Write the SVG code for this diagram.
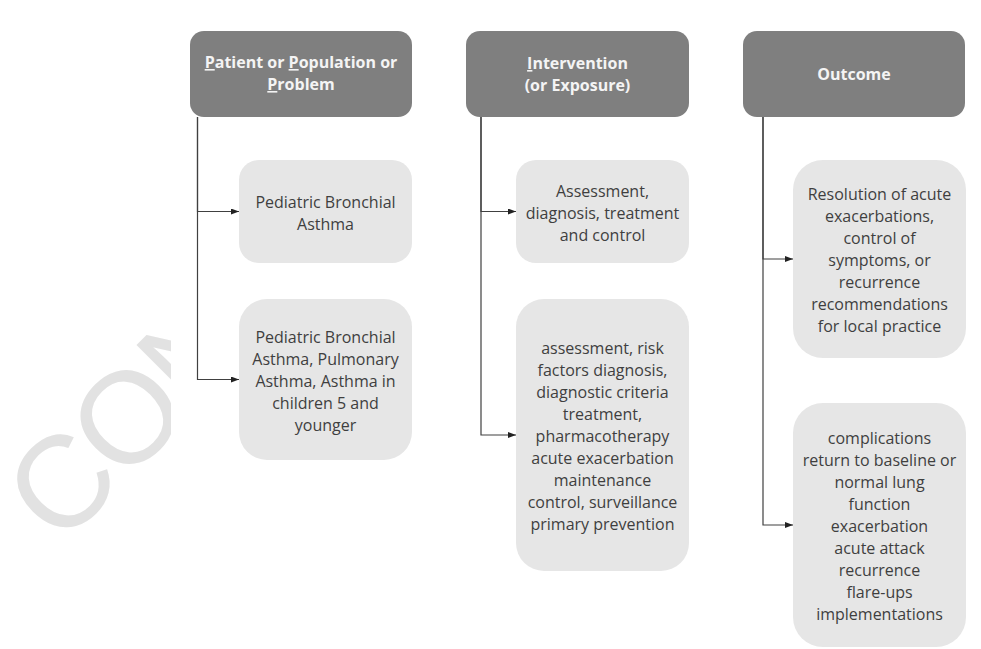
<svg xmlns="http://www.w3.org/2000/svg" width="981" height="649" viewBox="0 0 981 649">
<defs>
<style>
.hdr{fill:#7f7f7f}
.box{fill:#e6e6e6}
.ht{font-family:"Open Sans","Noto Sans",sans-serif;font-size:16px;font-weight:bold;fill:#f4f4f4;text-anchor:middle}
.bt{font-family:"Open Sans","Noto Sans",sans-serif;font-size:16px;fill:#3f3f3f;text-anchor:middle}
.con{fill:none;stroke:#404040;stroke-width:1.2}
.wm{font-family:"Liberation Sans",Arial,sans-serif;font-size:130px;fill:#e2e2e2;letter-spacing:-4px}
</style>
<marker id="arr" markerWidth="8" markerHeight="6" refX="8" refY="3" orient="auto" markerUnits="userSpaceOnUse">
<path d="M0,0 L8,3 L0,6 z" fill="#222"/>
</marker>
</defs>
<rect x="0" y="0" width="981" height="649" fill="#fff"/>
<text class="wm" x="60" y="548" transform="rotate(-45 60 548)">CON</text>
<rect x="171" y="12" width="810" height="637" fill="#fff"/>

<g id="connectors">
<path class="con" d="M197.5,117 V211.5 H239" marker-end="url(#arr)"/>
<path class="con" d="M197.5,117 V379.5 H239" marker-end="url(#arr)"/>
<path class="con" d="M481,117 V211.5 H516" marker-end="url(#arr)"/>
<path class="con" d="M481,117 V435 H516" marker-end="url(#arr)"/>
<path class="con" d="M763,117 V259 H793" marker-end="url(#arr)"/>
<path class="con" d="M763,117 V525 H793" marker-end="url(#arr)"/>
</g>

<g id="h1">
<rect class="hdr" x="190" y="31" width="222" height="86" rx="14"/>
<text class="ht" x="301" y="68"><tspan text-decoration="underline">P</tspan>atient or <tspan text-decoration="underline">P</tspan>opulation or</text>
<text class="ht" x="301" y="90"><tspan text-decoration="underline">P</tspan>roblem</text>
</g>
<g id="h2">
<rect class="hdr" x="466" y="31" width="223" height="86" rx="14"/>
<text class="ht" x="577.5" y="69"><tspan text-decoration="underline">I</tspan>ntervention</text>
<text class="ht" x="577.5" y="91">(or Exposure)</text>
</g>
<g id="h3">
<rect class="hdr" x="743" y="31" width="222" height="86" rx="14"/>
<text class="ht" x="854" y="80">Outcome</text>
</g>

<g id="p1">
<rect class="box" x="239" y="160" width="173" height="103" rx="20"/>
<text class="bt" x="325.5" y="207.5">Pediatric Bronchial</text>
<text class="bt" x="325.5" y="229.5">Asthma</text>
</g>
<g id="p2">
<rect class="box" x="239" y="299" width="173" height="161" rx="28"/>
<text class="bt" x="325.5" y="342.5">Pediatric Bronchial</text>
<text class="bt" x="325.5" y="364.5">Asthma, Pulmonary</text>
<text class="bt" x="325.5" y="386.5">Asthma, Asthma in</text>
<text class="bt" x="325.5" y="408.5">children 5 and</text>
<text class="bt" x="325.5" y="430.5">younger</text>
</g>

<g id="i1">
<rect class="box" x="516" y="160" width="173" height="103" rx="20"/>
<text class="bt" x="602.5" y="196.5">Assessment,</text>
<text class="bt" x="602.5" y="218.5">diagnosis, treatment</text>
<text class="bt" x="602.5" y="240.5">and control</text>
</g>
<g id="i2">
<rect class="box" x="516" y="299" width="173" height="272" rx="28"/>
<text class="bt" x="602.5" y="354">assessment, risk</text>
<text class="bt" x="602.5" y="376">factors diagnosis,</text>
<text class="bt" x="602.5" y="398">diagnostic criteria</text>
<text class="bt" x="602.5" y="420">treatment,</text>
<text class="bt" x="602.5" y="442">pharmacotherapy</text>
<text class="bt" x="602.5" y="464">acute exacerbation</text>
<text class="bt" x="602.5" y="486">maintenance</text>
<text class="bt" x="602.5" y="508">control, surveillance</text>
<text class="bt" x="602.5" y="530">primary prevention</text>
</g>

<g id="o1">
<rect class="box" x="793" y="160" width="173" height="198" rx="30"/>
<text class="bt" x="879.5" y="200">Resolution of acute</text>
<text class="bt" x="879.5" y="222">exacerbations,</text>
<text class="bt" x="879.5" y="244">control of</text>
<text class="bt" x="879.5" y="266">symptoms, or</text>
<text class="bt" x="879.5" y="288">recurrence</text>
<text class="bt" x="879.5" y="310">recommendations</text>
<text class="bt" x="879.5" y="332">for local practice</text>
</g>
<g id="o2">
<rect class="box" x="793" y="403" width="173" height="244" rx="30"/>
<text class="bt" x="879.5" y="444">complications</text>
<text class="bt" x="879.5" y="466">return to baseline or</text>
<text class="bt" x="879.5" y="488">normal lung</text>
<text class="bt" x="879.5" y="510">function</text>
<text class="bt" x="879.5" y="532">exacerbation</text>
<text class="bt" x="879.5" y="554">acute attack</text>
<text class="bt" x="879.5" y="576">recurrence</text>
<text class="bt" x="879.5" y="598">flare-ups</text>
<text class="bt" x="879.5" y="620">implementations</text>
</g>
</svg>
